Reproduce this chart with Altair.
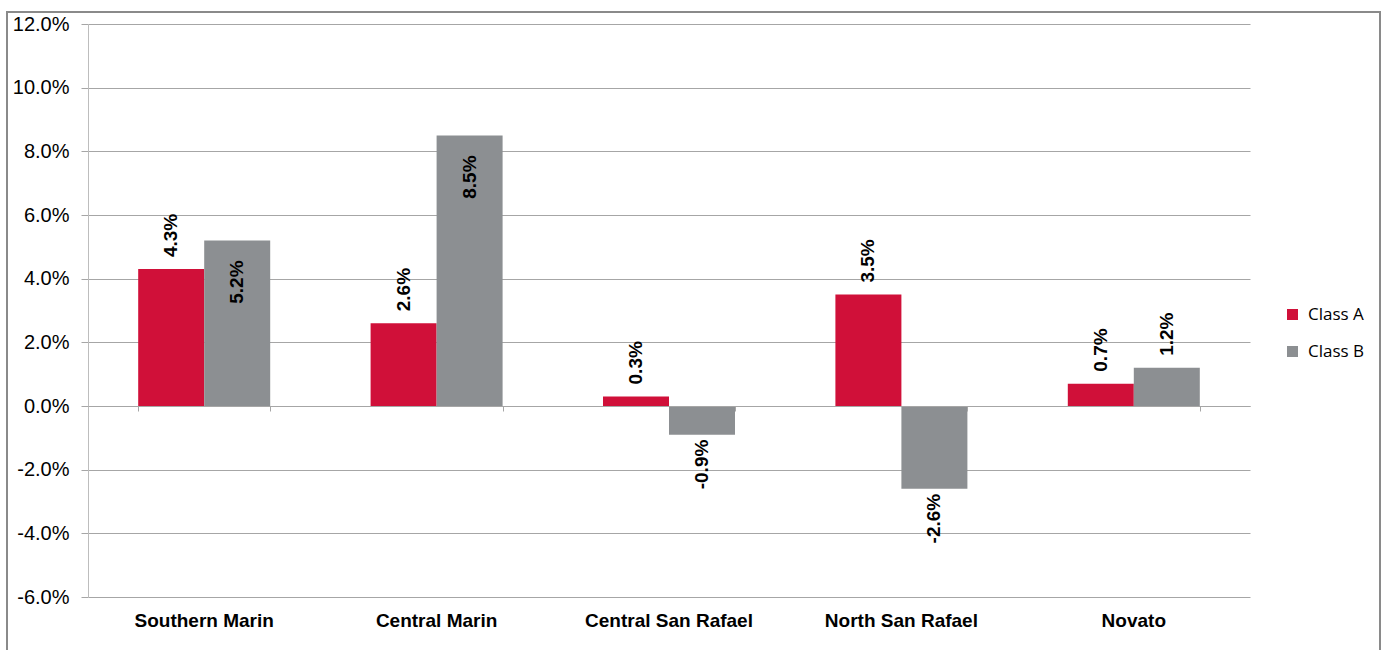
import altair as alt
import pandas as pd

regions = ["Southern Marin", "Central Marin", "Central San Rafael", "North San Rafael", "Novato"]
class_a = [0.043, 0.026, 0.003, 0.035, 0.007]
class_b = [0.052, 0.085, -0.009, -0.026, 0.012]
series = ["Class A", "Class B"]
colors = ["#D01039", "#8C8F92"]
y_ticks = [-0.06, -0.04, -0.02, 0.0, 0.02, 0.04, 0.06, 0.08, 0.10, 0.12]

rows = []
for i, r in enumerate(regions):
    rows.append({"region": r, "series": "Class A", "value": class_a[i]})
    rows.append({"region": r, "series": "Class B", "value": class_b[i]})
df = pd.DataFrame(rows)

W, H = 1162, 573
ymin, ymax = -0.06, 0.12
zero_offset = -H * (0 - ymin) / (ymax - ymin)

xscale = alt.Scale(domain=regions, paddingInner=0.432, paddingOuter=0.216)
yscale = alt.Scale(domain=[ymin, ymax], nice=False, zero=False)
xoff_scale = alt.Scale(domain=series, paddingInner=0, paddingOuter=0)

base = alt.Chart(df)

x_main = alt.X("region:N", scale=xscale, sort=regions, title=None,
               axis=alt.Axis(orient="bottom", labelAngle=0, labelFont="Liberation Sans",
                             labelFontSize=19, labelFontWeight="bold", labelColor="#000000",
                             ticks=False, domain=False, labelPadding=14, grid=False))
y_main = alt.Y("value:Q", scale=yscale, title=None,
               axis=alt.Axis(values=y_ticks, format=".1%",
                             labelExpr="replace(datum.label, '\u2212', '-')",
                             labelFont="Liberation Sans",
                             labelFontSize=20, labelColor="#000000", labelPadding=12,
                             tickSize=7, tickColor="#a6a6a6", domainColor="#bdbdbd",
                             gridColor="#a6a6a6", grid=True, gridWidth=1))

bars = base.mark_bar(size=66).encode(
    x=x_main,
    xOffset=alt.XOffset("series:N", scale=xoff_scale),
    y=y_main,
    y2=alt.datum(0),
    color=alt.Color("series:N", scale=alt.Scale(domain=series, range=colors),
                    legend=alt.Legend(title=None, orient="none", legendX=1196, legendY=282,
                                      labelFont="Open Sans", labelFontSize=17, labelColor="#000000",
                                      symbolType="square", symbolSize=121, symbolStrokeWidth=0,
                                      rowPadding=19, labelOffset=7, padding=0)),
)

x_zero = alt.X("region:N", scale=xscale, sort=regions, title=None,
               axis=alt.Axis(orient="bottom", offset=zero_offset, labels=False, ticks=True,
                             tickBand="extent", tickSize=5, tickColor="#a6a6a6",
                             domain=True, domainColor="#a6a6a6", grid=False, zindex=1))
zero_axis = base.mark_point(opacity=0).encode(x=x_zero)

text_common = dict(angle=270, baseline="middle", font="Liberation Sans",
                   fontSize=19, fontWeight="bold", color="#000000")
enc = dict(
    x=alt.X("region:N", scale=xscale, sort=regions, axis=None),
    xOffset=alt.XOffset("series:N", scale=xoff_scale),
    y=alt.Y("value:Q", scale=yscale),
    text=alt.Text("lab:N"),
)
labels = base.transform_calculate(lab="replace(format(datum.value, '.1%'), '\u2212', '-')")
lab_out = labels.transform_filter("datum.value >= 0 && datum.value < 0.05").mark_text(
    align="left", dx=12, **text_common).encode(**enc)
lab_in = labels.transform_filter("datum.value >= 0.05").mark_text(
    align="right", dx=-20, **text_common).encode(**enc)
lab_neg = labels.transform_filter("datum.value < 0").mark_text(
    align="right", dx=-5, **text_common).encode(**enc)

frame = alt.Chart(pd.DataFrame({"a": [0]})).mark_rect(
    filled=False, stroke="#8a8a8a", strokeWidth=2).encode(
    x=alt.value(-81), x2=alt.value(1292), y=alt.value(-12), y2=alt.value(700))

chart = alt.layer(bars, zero_axis, lab_out, lab_in, lab_neg, frame).resolve_axis(
    x="independent").properties(
    width=W, height=H,
    autosize=alt.AutoSizeParams(type="none"),
    padding={"left": 88, "top": 24, "right": 131, "bottom": 53},
    background="#ffffff",
).configure_view(stroke=None)

chart.save("out.html", embed_options={"renderer": "svg", "actions": False})
